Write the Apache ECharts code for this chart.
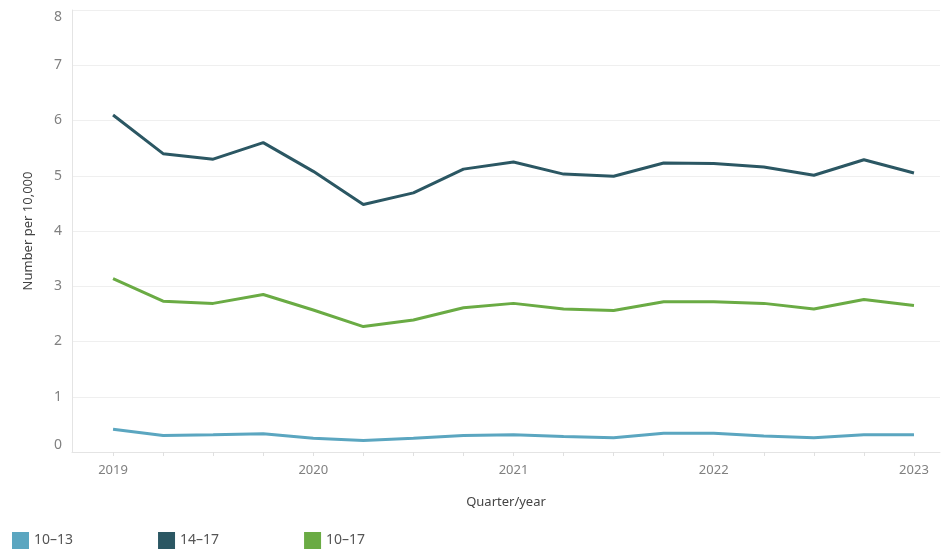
<!DOCTYPE html>
<html>
<head>
<meta charset="utf-8">
<script src="https://cdn.jsdelivr.net/npm/echarts@6/dist/echarts.min.js"></script>
<style>
  html, body { margin: 0; padding: 0; background: #fff; }
  #chart { width: 944px; height: 551px; }
</style>
</head>
<body>
<div id="chart"></div>
<script>
// quarter positions, Q1 2019 .. Q1 2023
const quarters = [2019, 2019.25, 2019.5, 2019.75, 2020, 2020.25, 2020.5, 2020.75,
  2021, 2021.25, 2021.5, 2021.75, 2022, 2022.25, 2022.5, 2022.75, 2023];
const yearTicks = [2019, 2020, 2021, 2022, 2023];

const age10to13 = [0.41, 0.30, 0.31, 0.33, 0.25, 0.21, 0.25, 0.30, 0.31, 0.28, 0.26, 0.34, 0.34, 0.29, 0.26, 0.31, 0.31];
const age14to17 = [6.10, 5.40, 5.30, 5.60, 5.08, 4.48, 4.69, 5.12, 5.25, 5.03, 4.99, 5.23, 5.22, 5.16, 5.01, 5.29, 5.05];
const age10to17 = [3.14, 2.73, 2.69, 2.85, 2.57, 2.27, 2.39, 2.61, 2.69, 2.59, 2.56, 2.72, 2.72, 2.69, 2.59, 2.76, 2.65];

const seriesNames = ['10–13', '14–17', '10–17'];
const seriesColors = ['#5ba6c0', '#2b5763', '#6aab44'];

const FONT = 'Noto Sans, sans-serif';
const pairs = (vals) => vals.map((v, i) => [quarters[i], v]);

const chart = echarts.init(document.getElementById('chart'));

const makeLine = (name, vals, color) => ({
  name: name,
  type: 'line',
  data: pairs(vals),
  showSymbol: false,
  symbol: 'none',
  lineStyle: { width: 3, color: color },
  itemStyle: { color: color },
});

chart.setOption({
  animation: false,
  textStyle: { fontFamily: FONT },
  grid: { left: 72, right: 4, top: 10, bottom: 99, containLabel: false },
  legend: {
    left: 7,
    top: 527,
    icon: 'rect',
    itemWidth: 17,
    itemHeight: 17,
    itemGap: 85,
    textStyle: { color: '#555', fontSize: 14, fontFamily: FONT },
    data: seriesNames,
  },
  xAxis: {
    type: 'value',
    min: 2018.795,
    max: 2023.13,
    name: 'Quarter/year',
    nameLocation: 'middle',
    nameGap: 44,
    nameTextStyle: { color: '#444', fontSize: 13 },
    axisLine: { show: true, lineStyle: { color: '#e4e4e4' } },
    axisTick: { show: true, length: 4, lineStyle: { color: '#e0e0e0' }, customValues: quarters },
    axisLabel: {
      color: '#808080',
      fontSize: 13,
      margin: 12,
      customValues: yearTicks,
      formatter: (v) => String(Math.round(v)),
    },
    splitLine: { show: false },
  },
  yAxis: {
    type: 'value',
    min: 0,
    max: 8,
    interval: 1,
    name: 'Number per 10,000',
    nameLocation: 'middle',
    nameGap: 37,
    nameRotate: 90,
    nameTextStyle: { color: '#444', fontSize: 13 },
    axisLine: { show: true, lineStyle: { color: '#e4e4e4' } },
    axisTick: { show: false },
    axisLabel: {
      color: '#808080',
      fontSize: 14,
      margin: 10,
      verticalAlignMinLabel: 'bottom',
      verticalAlignMaxLabel: 'top',
    },
    splitLine: { show: true, lineStyle: { color: '#efefef' } },
  },
  series: [
    makeLine(seriesNames[0], age10to13, seriesColors[0]),
    makeLine(seriesNames[1], age14to17, seriesColors[1]),
    makeLine(seriesNames[2], age10to17, seriesColors[2]),
  ],
});
</script>
</body>
</html>
